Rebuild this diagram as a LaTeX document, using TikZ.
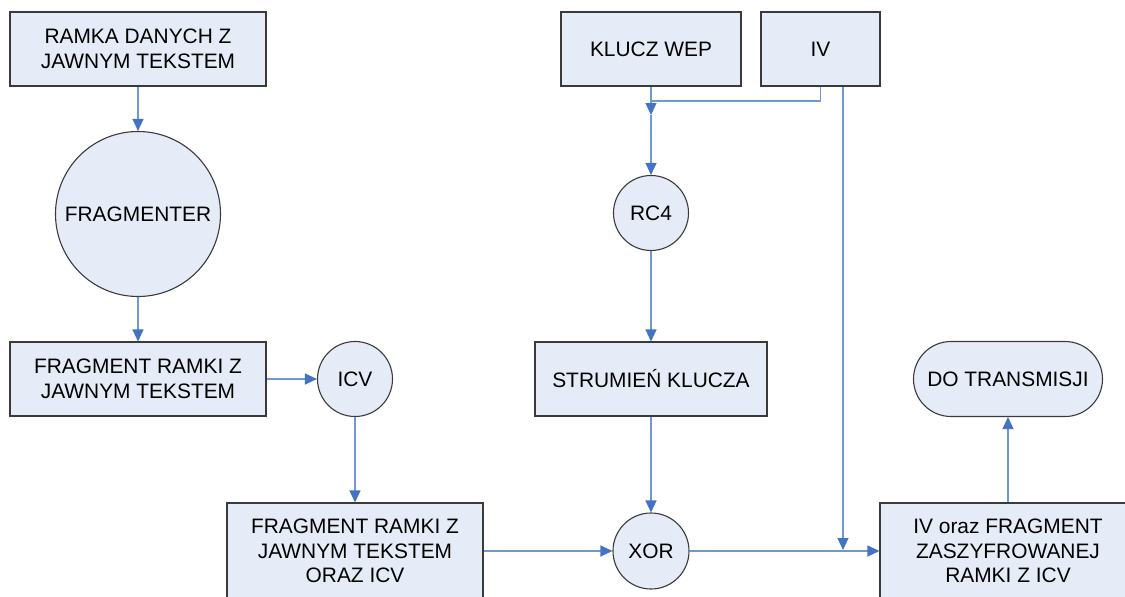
\documentclass[tikz,border=0pt]{standalone}
\usepackage{fontspec}
\setmainfont{Liberation Sans}
\usetikzlibrary{arrows.meta,shapes.misc}
\definecolor{boxfill}{HTML}{E6ECF7}
\definecolor{boxline}{HTML}{3A3A3A}
\definecolor{wire}{HTML}{6F97D0}
\definecolor{tipc}{HTML}{4472C4}
\begin{document}
\begin{tikzpicture}[x=1pt,y=-1pt,
  shp/.style={fill=boxfill, draw=boxline, line width=1.1pt, inner sep=0pt,
    align=center, font=\fontsize{20.9}{24.5}\selectfont},
  blk/.style={shp, rectangle, minimum width=#1, minimum height=74pt},
  tallblk/.style={shp, rectangle, minimum width=256pt, minimum height=96pt},
  proc/.style={shp, circle, minimum size=#1},
  term/.style={shp, rounded rectangle, minimum width=189pt, minimum height=75pt},
  wireline/.style={draw=wire, line width=1.1pt},
  arr/.style={wireline, -{Triangle[width=11pt,length=12pt,color=tipc]}}]
\clip (0,0) rectangle (1125,597);
\fill[white] (0,0) rectangle (1125,597);

% left column: plaintext frame and its fragmentation
\node[blk=256pt] (frame) at (138,49) {RAMKA DANYCH Z\\JAWNYM TEKSTEM};
\node[proc=165pt] (frag) at (138,214) {FRAGMENTER};
\node[blk=256pt] (fragbox) at (138,379) {FRAGMENT RAMKI Z\\JAWNYM TEKSTEM};
\node[proc=75pt] (icv) at (355,379) {ICV};
\node[tallblk] (fragicv) at (355,551) {FRAGMENT RAMKI Z\\JAWNYM TEKSTEM\\ORAZ ICV};

% key stream generation
\node[blk=180pt] (wep) at (651,49) {KLUCZ WEP};
\node[blk=119pt] (iv) at (820.5,49) {IV};
\node[proc=75pt] (rc4) at (651,213) {RC4};
\node[blk=232pt] (stream) at (651,379) {STRUMIEŃ KLUCZA};
\node[proc=76pt] (xor) at (651,551) {XOR};

% output
\node[tallblk] (cipher) at (1008,551) {IV oraz FRAGMENT\\ZASZYFROWANEJ\\RAMKI Z ICV};
\node[term] (send) at (1008,379) {DO TRANSMISJI};

% junction points
\coordinate (join) at (651,101);
\coordinate (jtip) at (651,115);
\coordinate (ivdrop) at (843,550);

% connectors
\draw[arr] (frame) -- (frag);
\draw[arr] (frag) -- (fragbox);
\draw[arr] (fragbox) -- (icv);
\draw[arr] (icv) -- (icv |- fragicv.north);
\draw[arr] (fragicv) -- (xor);
\draw[arr] (xor) -- (cipher);
\draw[arr] (cipher) -- (send);
\draw[wireline] (iv.south) |- (join);
\draw[arr] (wep.south) -- (jtip);
\draw[arr] (jtip) -- (rc4.north);
\draw[arr] (rc4) -- (stream);
\draw[arr] (stream) -- (xor);
\draw[arr] (iv.south -| ivdrop) -- (ivdrop);
\end{tikzpicture}
\end{document}
